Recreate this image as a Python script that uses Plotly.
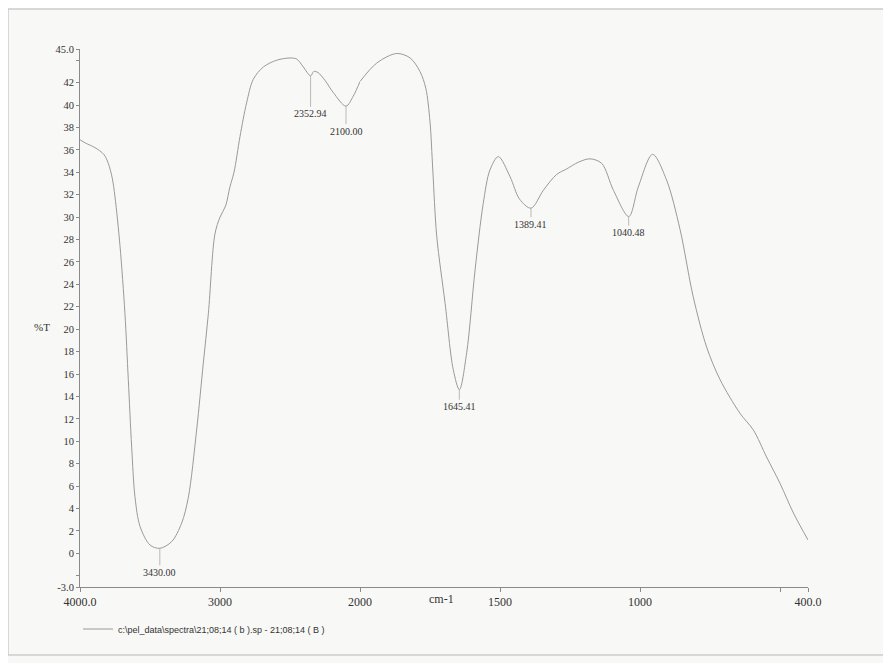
import plotly.graph_objects as go

# Wavenumber (cm-1) and %T
wavenumber = [4000, 3960, 3893, 3830, 3798, 3770, 3750, 3714, 3679, 3655, 3631, 3607, 3571,
              3500, 3430, 3345, 3274, 3226, 3167, 3119, 3083, 3036, 3000, 2960, 2929, 2900,
              2857, 2810, 2762, 2690, 2595, 2500, 2452, 2405, 2353, 2330, 2300, 2250, 2190,
              2100, 2048, 2000,
              1940, 1869, 1821, 1786, 1765, 1750, 1740, 1726, 1696, 1667, 1645, 1619, 1589,
              1560, 1536, 1506, 1464, 1430, 1389, 1345, 1298, 1262, 1220, 1179, 1137, 1095,
              1040, 1006, 955, 905, 857, 810, 762, 714, 643, 595, 548, 500, 452, 400]
transmittance = [36.9, 36.6, 36.2, 35.6, 34.8, 33.5, 31.8, 27.4, 21.4, 15.5, 9.5, 5.0, 2.4,
                 0.75, 0.45, 1.05, 2.7, 5.0, 11.0, 17.0, 21.4, 28.5, 30.0, 31.0, 32.7, 34.0,
                 37.2, 40.2, 42.3, 43.4, 44.0, 44.2, 44.1, 43.4, 42.6, 43.0, 42.9, 42.2, 41.1,
                 39.9, 40.8, 42.1,
                 43.75, 44.6, 44.2, 43.0, 41.5, 38.5, 34.2, 28.3, 22.3, 16.4, 14.6, 17.9, 25.3,
                 31.2, 34.2, 35.4, 33.6, 31.6, 30.8, 32.4, 33.8, 34.3, 34.9, 35.2, 34.8, 32.4,
                 30.05, 32.7, 35.6, 33.3, 28.9, 22.9, 18.4, 15.5, 12.5, 11.0, 8.6, 6.25, 3.6, 1.2]

peak_wn = [3430.00, 2352.94, 2100.00, 1645.41, 1389.41, 1040.48]
peak_t = [0.45, 42.6, 39.9, 14.6, 30.8, 30.05]
peak_labels = ["3430.00", "2352.94", "2100.00", "1645.41", "1389.41", "1040.48"]
peak_offsets = [24, 38, 25, 17, 16, 16]

x_ticks_hi = [4000, 3000, 2000]
x_text_hi = ["4000.0", "3000", "2000"]
x_ticks_lo = [1500, 1000, 500, 400]
x_text_lo = ["1500", "1000", "", "400.0"]
y_ticks = [-3, -2] + list(range(0, 43, 2)) + [44, 45]
y_text = ["-3.0", ""] + [str(v) for v in range(0, 43, 2)] + ["", "45.0"]

legend_name = "c:\\pel_data\\spectra\\21;08;14 ( b ).sp - 21;08;14 ( B )"

hi = [(w, t) for w, t in zip(wavenumber, transmittance) if w >= 2000]
lo = [(w, t) for w, t in zip(wavenumber, transmittance) if w <= 2000]

curve_color = "#9a9a9a"
axis_color = "#8a8a8a"
serif = "Liberation Serif"

fig = go.Figure()
fig.add_trace(go.Scatter(x=[p[0] for p in hi], y=[p[1] for p in hi], mode="lines",
                         line=dict(color=curve_color, width=1, shape="spline", smoothing=0.9),
                         name=legend_name, showlegend=True, xaxis="x", yaxis="y"))
fig.add_trace(go.Scatter(x=[p[0] for p in lo], y=[p[1] for p in lo], mode="lines",
                         line=dict(color=curve_color, width=1, shape="spline", smoothing=0.9),
                         showlegend=False, xaxis="x2", yaxis="y"))

split = 280 / 728
annotations = []
for w, t, lab, off in zip(peak_wn, peak_t, peak_labels, peak_offsets):
    xr = "x" if w > 2000 else "x2"
    annotations.append(dict(x=w, y=t, xref=xr, yref="y", text=lab, showarrow=True,
                            arrowhead=0, arrowwidth=0.8, arrowcolor="#aaaaaa", ax=0, ay=off,
                            font=dict(family=serif, size=10, color="#333333")))
annotations.append(dict(x=(441 - 80) / 728, y=(587 - 608) / 538, xref="paper", yref="paper",
                        text="cm-1", showarrow=False,
                        font=dict(family=serif, size=12, color="#333333")))
annotations.append(dict(x=(32 - 80) / 728, y=(587 - 327) / 538, xref="paper", yref="paper",
                        text="%T", showarrow=False,
                        font=dict(family=serif, size=11, color="#333333")))

fig.update_layout(
    width=891, height=663,
    margin=dict(l=72, r=91, t=41, b=84),
    paper_bgcolor="#f8f8f6", plot_bgcolor="#f8f8f6",
    xaxis=dict(domain=[0, split], range=[4000, 2000], tickvals=x_ticks_hi, ticktext=x_text_hi,
               showgrid=False, zeroline=False, showline=True, linecolor=axis_color, linewidth=1,
               ticks="outside", ticklen=4, tickcolor=axis_color, anchor="y",
               tickfont=dict(family=serif, size=12, color="#333333")),
    xaxis2=dict(domain=[split, 1], range=[2000, 400], tickvals=x_ticks_lo, ticktext=x_text_lo,
                showgrid=False, zeroline=False, showline=True, linecolor=axis_color, linewidth=1,
                ticks="outside", ticklen=4, tickcolor=axis_color, anchor="y",
                tickfont=dict(family=serif, size=12, color="#333333")),
    yaxis=dict(range=[-3, 45], tickvals=y_ticks, ticktext=y_text, showgrid=False,
               zeroline=False, showline=True, linecolor=axis_color, linewidth=1,
               ticks="outside", ticklen=3, tickcolor=axis_color,
               tickfont=dict(family=serif, size=10.5, color="#333333")),
    legend=dict(x=(78 - 80) / 728, y=(587 - 629) / 538, xanchor="left", yanchor="middle",
                bgcolor="rgba(0,0,0,0)", font=dict(family="Liberation Sans", size=9, color="#333333"),
                itemwidth=30),
    annotations=annotations,
    shapes=[dict(type="rect", xref="paper", yref="paper",
                 x0=(8 - 80) / 728, x1=(884 - 80) / 728,
                 y0=(587 - 655) / 538, y1=(587 - 9) / 538,
                 line=dict(color="#b8b8b8", width=1))],
)

fig.write_html("out.html")
